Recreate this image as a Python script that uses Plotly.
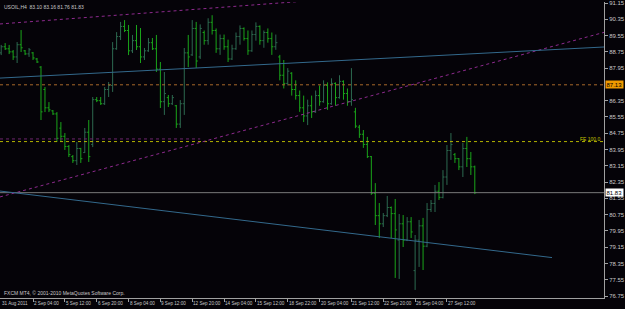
import plotly.graph_objects as go

# ---- data (USOIL H4) ----
bar_index = list(range(120))
opens = [88.70, 89.00, 88.90, 88.75, 88.50, 89.10, 88.80, 88.65, 88.70, 88.40,
         88.00, 86.90, 86.00, 85.85, 85.70, 85.00, 84.60, 84.10, 83.60, 83.40,
         84.00, 83.80, 84.80, 84.20, 86.40, 86.35, 86.20, 86.90, 87.10, 88.90,
         89.50, 90.00, 89.80, 88.80, 89.30, 89.00, 88.50, 88.80, 89.20, 88.90,
         87.90, 86.30, 86.50, 86.20, 86.10, 85.20, 86.20, 88.70, 88.60, 89.90,
         88.50, 89.70, 89.30, 90.20, 89.80, 88.90, 89.40, 89.00, 88.40, 88.90,
         89.50, 89.90, 89.40, 88.80, 89.60, 90.00, 89.30, 89.70, 89.40, 89.00,
         88.50, 87.60, 87.20, 87.70, 86.90, 86.60, 86.00, 85.60, 86.10, 85.80,
         86.60, 86.30, 87.10, 86.20, 87.20, 86.50, 87.30, 86.70, 86.30, 85.80,
         85.05, 84.70, 84.20, 83.60, 81.80, 80.70, 80.30, 80.70, 81.10, 80.80,
         79.50, 80.30, 79.50, 80.40, 78.00, 79.50, 80.20, 79.20, 81.00, 81.30,
         81.90, 81.60, 82.60, 83.90, 83.70, 83.50, 83.10, 84.00, 83.50, 83.10]
highs = [89.09, 89.18, 89.09, 88.84, 89.23, 89.82, 88.84, 88.94, 88.74, 88.45,
         88.05, 87.02, 86.28, 85.89, 85.79, 85.30, 84.76, 84.17, 83.68, 84.32,
         84.03, 85.01, 85.40, 86.53, 86.53, 86.53, 87.02, 87.27, 89.23, 89.72,
         90.22, 90.31, 90.07, 89.58, 90.07, 89.92, 88.94, 89.43, 89.43, 89.58,
         88.25, 87.76, 86.63, 86.63, 86.14, 86.38, 88.94, 89.58, 90.31, 90.22,
         90.10, 89.80, 90.40, 90.55, 89.90, 89.60, 89.60, 89.35, 89.10, 89.70,
         90.05, 89.95, 89.80, 89.80, 90.20, 90.05, 89.80, 89.90, 89.70, 89.60,
         88.60, 88.35, 87.95, 87.75, 87.35, 86.85, 86.60, 86.40, 86.60, 86.85,
         87.10, 87.35, 87.25, 87.45, 87.25, 87.60, 87.35, 86.95, 87.95, 86.00,
         85.16, 84.91, 84.57, 83.63, 82.30, 81.32, 80.83, 81.67, 81.15, 81.52,
         80.78, 80.73, 80.63, 80.63, 79.75, 80.49, 80.59, 81.32, 81.47, 82.21,
         82.35, 82.94, 84.17, 84.76, 83.78, 83.53, 84.27, 84.57, 83.83, 83.16]
lows = [88.59, 88.84, 88.64, 88.35, 88.20, 88.74, 88.59, 88.50, 88.35, 88.20,
        85.40, 85.79, 85.79, 85.65, 84.32, 84.32, 83.93, 83.58, 83.29, 83.19,
        83.29, 83.78, 83.34, 84.07, 86.28, 86.14, 86.14, 86.53, 86.78, 88.85,
        89.33, 89.72, 88.59, 88.69, 88.84, 88.20, 88.35, 88.75, 88.84, 87.76,
        85.99, 85.65, 86.04, 86.14, 85.01, 85.01, 85.65, 88.00, 88.55, 87.96,
        88.40, 89.10, 89.10, 89.60, 88.70, 88.60, 88.85, 88.25, 88.35, 88.85,
        89.10, 89.30, 88.60, 88.75, 89.30, 89.10, 88.95, 89.20, 88.60, 88.85,
        87.35, 86.95, 87.10, 86.60, 86.40, 85.80, 85.30, 85.15, 85.50, 85.75,
        86.10, 86.25, 85.90, 86.15, 86.10, 86.45, 86.40, 86.10, 86.10, 85.00,
        84.52, 84.03, 83.53, 81.72, 80.24, 79.60, 80.14, 80.63, 79.60, 77.64,
        77.59, 79.16, 79.45, 79.60, 77.05, 78.18, 78.03, 79.15, 80.88, 80.88,
        81.47, 81.55, 82.21, 83.44, 83.29, 82.94, 82.60, 83.09, 82.70, 81.76]
closes = [89.00, 88.90, 88.75, 88.50, 89.10, 88.95, 88.65, 88.85, 88.45, 88.25,
          85.80, 86.00, 85.90, 85.70, 84.50, 84.60, 84.10, 83.70, 83.40, 84.00,
          83.50, 84.80, 83.60, 86.40, 86.35, 86.20, 86.90, 87.10, 88.90, 89.50,
          90.00, 89.80, 88.80, 89.30, 89.00, 88.50, 88.80, 89.20, 88.90, 87.90,
          86.30, 86.70, 86.20, 86.50, 85.20, 86.20, 88.70, 88.50, 89.90, 88.30,
          89.90, 89.30, 90.20, 89.80, 88.90, 89.40, 89.00, 88.40, 88.90, 89.50,
          89.90, 89.40, 88.80, 89.60, 90.00, 89.30, 89.70, 89.40, 89.00, 89.20,
          87.60, 87.20, 87.80, 86.90, 86.60, 86.00, 85.60, 86.10, 85.80, 86.60,
          86.30, 87.10, 86.20, 87.20, 86.50, 87.30, 86.70, 86.30, 86.40, 85.10,
          84.70, 84.20, 83.60, 81.80, 80.70, 80.30, 80.70, 81.10, 80.80, 80.00,
          80.30, 79.50, 80.40, 79.90, 79.50, 80.20, 79.20, 81.00, 81.30, 81.90,
          81.60, 82.60, 83.90, 84.20, 83.50, 83.10, 84.00, 83.50, 83.10, 81.83]

tick_index = [0, 8, 16, 24, 32, 40, 48, 56, 64, 72, 80, 88, 96, 104, 112]
tick_labels = ["31 Aug 2011", "2 Sep 04:00", "5 Sep 12:00", "6 Sep 20:00", "8 Sep 04:00",
               "9 Sep 12:00", "12 Sep 20:00", "14 Sep 04:00", "15 Sep 12:00", "18 Sep 22:00",
               "20 Sep 04:00", "21 Sep 12:00", "22 Sep 20:00", "26 Sep 04:00", "27 Sep 12:00"]
# 87.15 is hidden under the 87.13 price box, as in the terminal
price_ticks = [76.75, 77.55, 78.35, 79.15, 79.95, 80.75, 81.55, 82.35, 83.15, 83.95,
               84.75, 85.55, 86.35, 87.95, 88.75, 89.55, 90.35, 91.15]
price_tick_text = ["76.75", "77.55", "78.35", "79.15", "79.95", "80.75", "81.55", "82.35",
                   "83.15", "83.95", "84.75", "85.55", "86.35", "87.95", "88.75",
                   "89.55", "90.35", "91.15"]

# trend lines: bar index / price end points
upper_channel_x = [-0.3, 151.7]
upper_channel_y = [90.12, 92.35]
rising_line_x = [-0.3, 151.7]
rising_line_y = [81.62, 89.72]
blue_upper_x = [-0.3, 151.7]
blue_upper_y = [87.46, 88.99]
blue_lower_x = [-0.3, 138.4]
blue_lower_y = [81.91, 78.64]
fibo_base_x = [-0.3, 50]
fibo_base_y = [84.47, 84.47]

level_orange = 87.13
level_fe = 84.34
bid_price = 81.83
title_text = "USOIL,H4  83.10 83.16 81.76 81.83"
copyright_text = "FXCM MT4, \u00a9 2001-2010 MetaQuotes Software Corp."

BG = "#050308"
TXT = "#c8c8c8"
AX = "#a0a0a0"
FONT = "Liberation Sans"
XR = [-0.3, 151.46]

fig = go.Figure()

def hline(y, color, dash, width=1):
    fig.add_trace(go.Scatter(x=XR, y=[y, y], mode="lines",
                             line=dict(color=color, width=width, dash=dash),
                             hoverinfo="skip", showlegend=False))

hline(level_orange, "#a8682a", "dot")
hline(level_fe, "#b4b400", "dot")
hline(bid_price, "#7a7a7a", "solid")

fig.add_trace(go.Scatter(x=fibo_base_x, y=fibo_base_y, mode="lines",
                         line=dict(color="#6e266e", width=1, dash="dot"),
                         hoverinfo="skip", showlegend=False))
for xs, ys, col, dash in [(upper_channel_x, upper_channel_y, "#8e2a8e", "dot"),
                          (rising_line_x, rising_line_y, "#8e2a8e", "dot"),
                          (blue_upper_x, blue_upper_y, "#33698c", "solid"),
                          (blue_lower_x, blue_lower_y, "#33698c", "solid")]:
    fig.add_trace(go.Scatter(x=xs, y=ys, mode="lines",
                             line=dict(color=col, width=1, dash=dash),
                             hoverinfo="skip", showlegend=False))

fig.add_trace(go.Ohlc(x=bar_index, open=opens, high=highs, low=lows, close=closes,
                      increasing=dict(line=dict(color="#2d6a50", width=1)),
                      decreasing=dict(line=dict(color="#1aa51a", width=1)),
                      tickwidth=0.4, showlegend=False, hoverinfo="skip"))

annotations = []
for i, t in zip(tick_index, tick_labels):
    annotations.append(dict(x=i, y=0, xref="x", yref="paper", text=t, showarrow=False,
                            xanchor="left", yanchor="top", xshift=-1, yshift=-1,
                            font=dict(family=FONT, size=4.6, color=TXT)))
annotations.append(dict(x=0, y=1, xref="paper", yref="paper", text=title_text,
                        showarrow=False, xanchor="left", yanchor="top", xshift=2, yshift=0,
                        font=dict(family=FONT, size=5, color=TXT)))
annotations.append(dict(x=0, y=0, xref="paper", yref="paper", text=copyright_text,
                        showarrow=False, xanchor="left", yanchor="bottom", xshift=2, yshift=0,
                        font=dict(family=FONT, size=5, color=TXT)))
annotations.append(dict(x=1, y=level_fe, xref="paper", yref="y", text="FE 100.0",
                        showarrow=False, xanchor="right", yanchor="bottom", xshift=-1, yshift=-2,
                        font=dict(family=FONT, size=5, color="#c8c800")))
annotations.append(dict(x=1, y=level_orange, xref="paper", yref="y", text=f"{level_orange:.2f}",
                        showarrow=False, xanchor="left", yanchor="middle", xshift=1,
                        bgcolor="#f09a00", borderpad=0.5,
                        font=dict(family=FONT, size=6, color="#000000")))
annotations.append(dict(x=1, y=bid_price, xref="paper", yref="y", text=f"{bid_price:.2f}",
                        showarrow=False, xanchor="left", yanchor="middle", xshift=1,
                        bgcolor="#ffffff", borderpad=0.5,
                        font=dict(family=FONT, size=6, color="#000000")))

fig.update_layout(
    width=625, height=309,
    margin=dict(l=0, r=21, t=2, b=11),
    paper_bgcolor=BG, plot_bgcolor=BG,
    showlegend=False,
    annotations=annotations,
    xaxis=dict(range=XR, showgrid=False, zeroline=False, showticklabels=False,
               tickvals=tick_index[1:], ticks="outside", ticklen=3, tickcolor=AX,
               showline=True, linecolor=AX, linewidth=1, rangeslider=dict(visible=False),
               fixedrange=True),
    yaxis=dict(range=[76.654, 91.199], side="right", showgrid=False, zeroline=False,
               tickvals=price_ticks, ticktext=price_tick_text, ticks="outside",
               ticklen=3, tickcolor=AX, showline=True, linecolor=AX, linewidth=1,
               mirror=True, tickfont=dict(family=FONT, size=6, color=TXT),
               fixedrange=True),
)

fig.write_html("out.html")
